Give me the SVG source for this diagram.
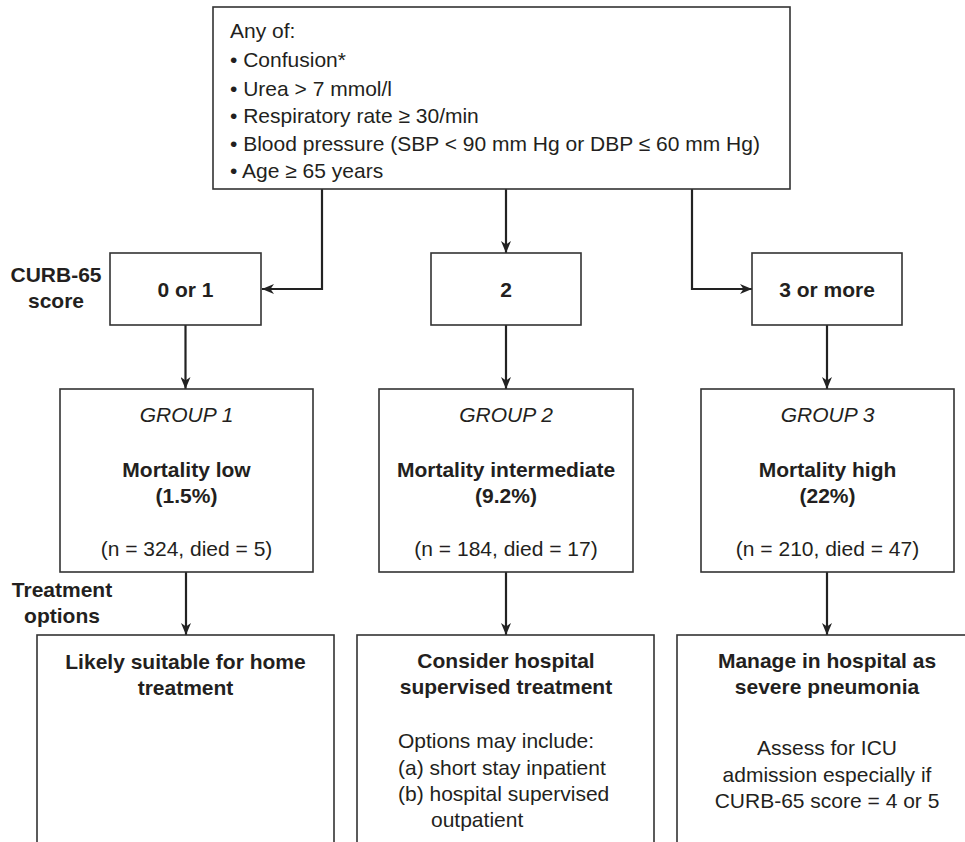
<svg xmlns="http://www.w3.org/2000/svg" width="965" height="842" viewBox="0 0 965 842">
<defs>
<marker id="ah" markerUnits="userSpaceOnUse" markerWidth="12" markerHeight="10" viewBox="0 0 12 10" refX="12" refY="5" orient="auto">
<path d="M0,0 L12,5 L0,10 L3.5,5 z" fill="#222"/>
</marker>
<style>
.box{fill:#fff;stroke:#333;stroke-width:1.6}
.con{fill:none;stroke:#222;stroke-width:2.2;marker-end:url(#ah)}
text{font-family:"Liberation Sans",Arial,Helvetica,sans-serif;font-size:21px;fill:#231f20}
.b{font-weight:bold}
.i{font-style:italic}
.c{text-anchor:middle}
</style>
</defs>
<rect width="965" height="842" fill="#fff"/>
<g id="connectors">
<path class="con" d="M322,189 V289 H262"/>
<path class="con" d="M506,189 V253"/>
<path class="con" d="M692,189 V289 H752"/>
<path class="con" d="M185.5,325 V389"/>
<path class="con" d="M506,325 V389"/>
<path class="con" d="M827,325 V389"/>
<path class="con" d="M186,572 V635"/>
<path class="con" d="M506,572 V635"/>
<path class="con" d="M827,572 V635"/>
</g>
<g id="criteria">
<rect class="box" x="213" y="7" width="577" height="182"/>
<text x="230" y="38">Any of:</text>
<text x="230" y="67">• Confusion*</text>
<text x="230" y="96">• Urea &gt; 7 mmol/l</text>
<text x="230" y="123">• Respiratory rate ≥ 30/min</text>
<text x="230" y="151">• Blood pressure (SBP &lt; 90 mm Hg or DBP ≤ 60 mm Hg)</text>
<text x="230" y="178">• Age ≥ 65 years</text>
</g>
<g id="label-curb">
<text class="b c" x="56" y="282">CURB-65</text>
<text class="b c" x="56" y="308">score</text>
</g>
<g id="label-treatment">
<text class="b c" x="62" y="597">Treatment</text>
<text class="b c" x="62" y="623">options</text>
</g>
<g id="score01">
<rect class="box" x="110" y="253" width="151" height="72"/>
<text class="b c" x="185.5" y="297">0 or 1</text>
</g>
<g id="score2">
<rect class="box" x="431" y="253" width="150" height="72"/>
<text class="b c" x="506" y="297">2</text>
</g>
<g id="score3">
<rect class="box" x="752" y="253" width="150" height="72"/>
<text class="b c" x="827" y="297">3 or more</text>
</g>
<g id="group1">
<rect class="box" x="60" y="389" width="253" height="183"/>
<text class="i c" x="186.5" y="422">GROUP 1</text>
<text class="b c" x="186.5" y="477">Mortality low</text>
<text class="b c" x="186.5" y="503">(1.5%)</text>
<text class="c" x="186.5" y="556">(n = 324, died = 5)</text>
</g>
<g id="group2">
<rect class="box" x="379" y="389" width="254" height="183"/>
<text class="i c" x="506" y="422">GROUP 2</text>
<text class="b c" x="506" y="477">Mortality intermediate</text>
<text class="b c" x="506" y="503">(9.2%)</text>
<text class="c" x="506" y="556">(n = 184, died = 17)</text>
</g>
<g id="group3">
<rect class="box" x="701" y="389" width="253" height="183"/>
<text class="i c" x="827.5" y="422">GROUP 3</text>
<text class="b c" x="827.5" y="477">Mortality high</text>
<text class="b c" x="827.5" y="503">(22%)</text>
<text class="c" x="827.5" y="556">(n = 210, died = 47)</text>
</g>
<g id="treat1">
<rect class="box" x="37" y="635" width="297" height="230"/>
<text class="b c" x="185.5" y="669">Likely suitable for home</text>
<text class="b c" x="185.5" y="695">treatment</text>
</g>
<g id="treat2">
<rect class="box" x="357" y="635" width="297" height="230"/>
<text class="b c" x="506" y="668">Consider hospital</text>
<text class="b c" x="506" y="694">supervised treatment</text>
<text x="398" y="748">Options may include:</text>
<text x="398" y="775">(a) short stay inpatient</text>
<text x="398" y="801">(b) hospital supervised</text>
<text x="431" y="827">outpatient</text>
</g>
<g id="treat3">
<rect class="box" x="677" y="635" width="300" height="230"/>
<text class="b c" x="827" y="668">Manage in hospital as</text>
<text class="b c" x="827" y="694">severe pneumonia</text>
<text class="c" x="827" y="755">Assess for ICU</text>
<text class="c" x="827" y="782">admission especially if</text>
<text class="c" x="827" y="808">CURB-65 score = 4 or 5</text>
</g>
</svg>
